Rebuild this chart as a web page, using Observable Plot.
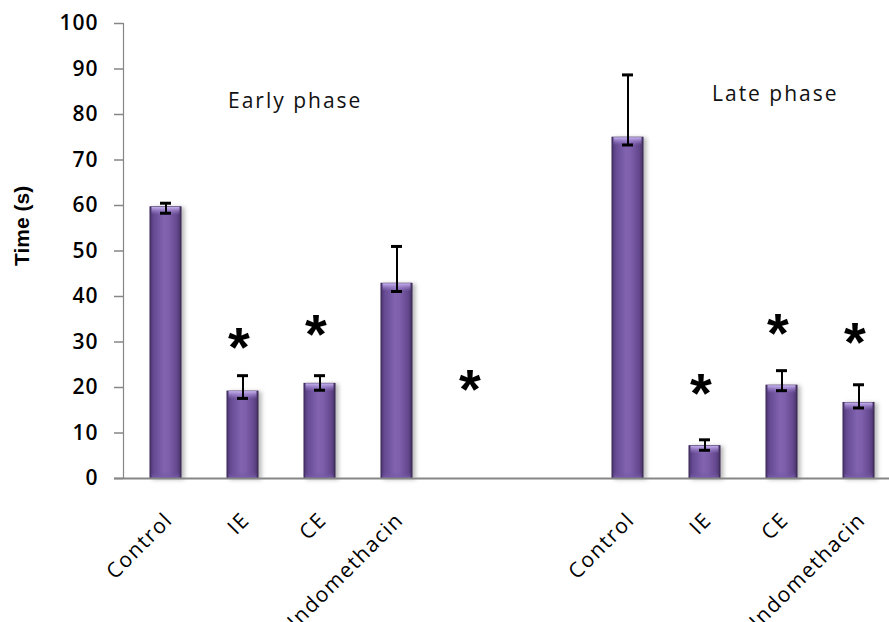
<!DOCTYPE html>
<html>
<head>
<meta charset="utf-8">
<script src="https://cdn.jsdelivr.net/npm/d3@7"></script>
<script src="https://cdn.jsdelivr.net/npm/@observablehq/plot@0.6"></script>
<style>
  html, body { margin: 0; padding: 0; background: #fff; }
  #chart svg { display: block; }
  g[aria-label="y-axis tick label"] text { letter-spacing: 1px; }
  g[aria-label="x-axis tick label"] text { letter-spacing: 1.5px; }
  g[aria-label="text"].phase text { letter-spacing: 2px; }
  g[aria-label="bar"].main rect { filter: drop-shadow(3px 1px 2px rgba(0, 0, 0, 0.28)); }
</style>
</head>
<body>
<div id="chart"></div>
<script>
// Licking time in the formalin test, per treatment group and phase
const categories = ["Control", "IE", "CE", "Indomethacin"];
const phases = ["Early phase", "Late phase"];

const earlyMean = [59.6, 19.1, 20.8, 42.8];
const earlyLow = [58.3, 17.6, 19.4, 41.1];
const earlyHigh = [60.5, 22.6, 22.6, 51.0];

const lateMean = [74.9, 7.1, 20.4, 16.6];
const lateLow = [73.3, 6.2, 19.3, 15.5];
const lateHigh = [88.7, 8.5, 23.7, 20.6];

// Two empty slots separate the phases on the category axis
const gapSlots = ["gap-1", "gap-2"];

// Significance markers (slot, height in seconds)
const starSlots = ["Early phase|IE", "Early phase|CE", "gap-1", "Late phase|IE", "Late phase|CE", "Late phase|Indomethacin"];
const starValues = [30.3, 33.0, 20.9, 20.1, 33.2, 31.4];

const yTicks = [0, 10, 20, 30, 40, 50, 60, 70, 80, 90, 100];

const slotKey = (phase, cat) => `${phase}|${cat}`;
const slots = [
  ...categories.map(c => slotKey(phases[0], c)),
  ...gapSlots,
  ...categories.map(c => slotKey(phases[1], c))
];

const rows = [
  ...categories.map((c, i) => ({slot: slotKey(phases[0], c), mean: earlyMean[i], low: earlyLow[i], high: earlyHigh[i]})),
  ...categories.map((c, i) => ({slot: slotKey(phases[1], c), mean: lateMean[i], low: lateLow[i], high: lateHigh[i]}))
];
const stars = starSlots.map((s, i) => ({slot: s, value: starValues[i]}));

const tickLabel = d => (gapSlots.includes(d) ? "" : d.split("|")[1]);

const chart = Plot.plot({
  width: 889,
  height: 622,
  marginTop: 23,
  marginRight: 0,
  marginBottom: 144,
  marginLeft: 123,
  style: {fontFamily: "'Open Sans', sans-serif", color: "black", background: "white"},
  x: {domain: slots, range: [123, 901], paddingInner: 0.6, paddingOuter: 0.3, label: null},
  y: {domain: [0, 100], label: null},
  marks: [
    Plot.axisY(yTicks, {
      tickSize: 9, tickPadding: 16, stroke: "#868686", strokeWidth: 1.5,
      fill: "black", fontSize: 21, fontWeight: 600, fontFamily: "'Open Sans', sans-serif", label: null
    }),
    Plot.axisX({
      tickSize: 0, tickRotate: -45, tickPadding: 38, dx: 3, tickFormat: tickLabel,
      fontSize: 21, fontFamily: "'Open Sans', sans-serif", fill: "black", label: null
    }),
    Plot.frame({anchor: "left", stroke: "#868686", strokeWidth: 1.2}),
    Plot.text(["Time (s)"], {
      frameAnchor: "left", rotate: -90, dx: -101, dy: 15,
      fontSize: 21, fontWeight: "bold", fontFamily: "'Liberation Sans', Arial, sans-serif", fill: "black"
    }),
    Plot.barY(rows, {x: "slot", y: "mean", fill: "url(#barFill)", stroke: "#3a2858", strokeWidth: 1, className: "main"}),
    Plot.barY(rows, {x: "slot", y1: "mean", y2: "mean", insetBottom: -8, insetLeft: 1.5, insetRight: 1.5, fill: "url(#barTop)"}),
    Plot.barY(rows, {x: "slot", y1: 0, y2: 0, insetTop: -6, insetLeft: 1.5, insetRight: 1.5, fill: "url(#barBottom)"}),
    Plot.ruleY([0], {stroke: "#868686", strokeWidth: 2, insetLeft: -9}),
    Plot.ruleX(rows, {x: "slot", y1: "low", y2: "high", stroke: "black", strokeWidth: 2}),
    Plot.tickY(rows, {x: "slot", y: "high", stroke: "black", strokeWidth: 3, insetLeft: 10, insetRight: 10}),
    Plot.tickY(rows, {x: "slot", y: "low", stroke: "black", strokeWidth: 3, insetLeft: 10, insetRight: 10}),
    Plot.text(stars, {
      x: "slot", y: "value", text: () => "*", dx: -4, dy: 7,
      fontSize: 56, fontWeight: "bold", fontFamily: "'Liberation Sans', Arial, sans-serif", fill: "black"
    }),
    Plot.text([phases[0]], {x: () => slotKey(phases[0], "IE"), y: () => 82.9, dx: -15, textAnchor: "start", fontSize: 21, fill: "#111", className: "phase"}),
    Plot.text([phases[1]], {x: () => slotKey(phases[1], "IE"), y: () => 84.5, dx: 7, textAnchor: "start", fontSize: 21, fill: "#111", className: "phase"})
  ]
});

// Gradients that give the bars their rounded, bevelled look
const defs = d3.select(chart).insert("defs", ":first-child");
const sideShade = defs.append("linearGradient").attr("id", "barFill").attr("x1", 0).attr("x2", 1).attr("y1", 0).attr("y2", 0);
[[0, "#4b3670"], [0.12, "#664a92"], [0.45, "#8163b0"], [0.6, "#7e5fac"], [0.88, "#63478d"], [1, "#45315f"]]
  .forEach(([o, c]) => sideShade.append("stop").attr("offset", o).attr("stop-color", c));
const topShade = defs.append("linearGradient").attr("id", "barTop").attr("x1", 0).attr("x2", 0).attr("y1", 0).attr("y2", 1);
topShade.append("stop").attr("offset", 0).attr("stop-color", "#c8b4f0").attr("stop-opacity", 1);
topShade.append("stop").attr("offset", 1).attr("stop-color", "#9a7ed0").attr("stop-opacity", 0);
const bottomShade = defs.append("linearGradient").attr("id", "barBottom").attr("x1", 0).attr("x2", 0).attr("y1", 0).attr("y2", 1);
bottomShade.append("stop").attr("offset", 0).attr("stop-color", "#6a4f98").attr("stop-opacity", 0);
bottomShade.append("stop").attr("offset", 1).attr("stop-color", "#7a5fb0").attr("stop-opacity", 0.8);

document.getElementById("chart").appendChild(chart);
</script>
</body>
</html>
